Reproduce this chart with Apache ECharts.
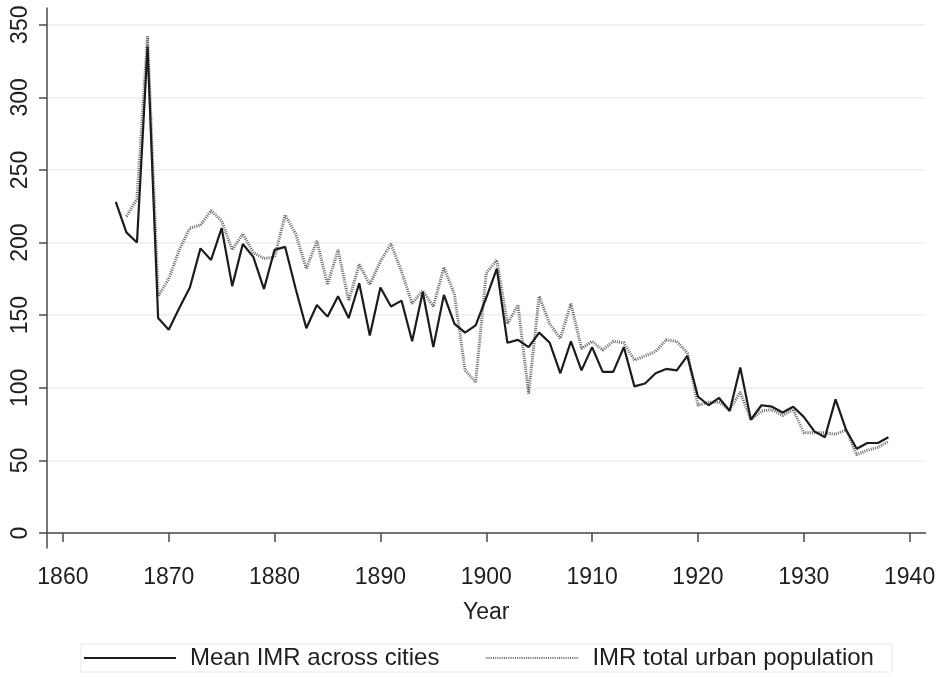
<!DOCTYPE html>
<html>
<head>
<meta charset="utf-8">
<script src="https://cdn.jsdelivr.net/npm/echarts@6/dist/echarts.min.js"></script>
<style>
  html, body { margin: 0; padding: 0; background: #fff; }
  #imr_chart { width: 944px; height: 677px; }
</style>
</head>
<body>
<div id="imr_chart"></div>
<script>
// IMR series
var meanYears = [1865,1866,1867,1868,1869,1870,1871,1872,1873,1874,1875,1876,1877,1878,1879,
    1880,1881,1882,1883,1884,1885,1886,1887,1888,1889,1890,1891,1892,1893,1894,1895,1896,1897,1898,1899,
    1900,1901,1902,1903,1904,1905,1906,1907,1908,1909,1910,1911,1912,1913,1914,1915,1916,1917,1918,1919,
    1920,1921,1922,1923,1924,1925,1926,1927,1928,1929,1930,1931,1932,1933,1934,1935,1936,1937,1938];
var meanImr = [228,207,200,335,148,140,155,169,196,188,210,170,199,190,168,
    195,197,168,141,157,149,163,148,172,136,169,156,160,132,166,128,164,144,138,143,
    162,182,131,133,128,138,131,110,132,112,128,111,111,128,101,103,110,113,112,122,
    94,88,93,84,114,78,88,87,83,87,80,70,66,92,71,58,62,62,66];

var urbanYears = [1866,1867,1868,1869,1870,1871,1872,1873,1874,1875,1876,1877,1878,1879,
    1880,1881,1882,1883,1884,1885,1886,1887,1888,1889,1890,1891,1892,1893,1894,1895,1896,1897,1898,1899,
    1900,1901,1902,1903,1904,1905,1906,1907,1908,1909,1910,1911,1912,1913,1914,1915,1916,1917,1918,1919,
    1920,1921,1922,1923,1924,1925,1926,1927,1928,1929,1930,1931,1932,1933,1934,1935,1936,1937,1938];
var urbanImr = [218,230,342,163,175,195,210,212,222,215,195,206,193,189,
    190,219,206,182,201,171,195,160,185,171,187,199,180,158,167,156,183,164,112,104,
    179,188,144,157,96,163,144,134,158,127,132,126,132,131,119,122,125,133,132,124,
    88,90,90,85,97,78,84,85,81,85,69,69,69,68,71,54,57,59,63];

var yearTicks = [1860,1870,1880,1890,1900,1910,1920,1930,1940];
var imrTicks = [0,50,100,150,200,250,300,350];

var pairs = function(xs, ys){
    var out = [];
    for (var i = 0; i < xs.length; i++) out.push([xs[i], ys[i]]);
    return out;
};

var chart = echarts.init(document.getElementById('imr_chart'));
var txt = '#1e1e1e';
var font = 'Liberation Sans, Arial, Helvetica, sans-serif';

var option = {
    animation: false,
    backgroundColor: '#ffffff',
    textStyle: { fontFamily: font },
    grid: { left: 47, right: 18.5, top: 8, bottom: 129 },
    legend: {
        data: ['Mean IMR across cities', 'IMR total urban population'],
        left: 81,
        top: 644,
        orient: 'horizontal',
        padding: [2, 18, 2, 2],
        borderColor: '#e3eaee',
        borderWidth: 1,
        itemWidth: 92,
        itemHeight: 14,
        itemGap: 46,
        itemStyle: { opacity: 0 },
        textStyle: { fontSize: 24, color: txt, fontFamily: font, padding: [0, 0, 0, 9] }
    },
    xAxis: {
        type: 'value',
        min: 1858.5,
        max: 1941.5,
        name: 'Year',
        nameLocation: 'middle',
        nameGap: 53,
        nameTextStyle: { fontSize: 23, color: txt, fontFamily: font },
        axisLine: { show: true, lineStyle: { color: '#4a4a4a', width: 1.5 } },
        axisTick: { show: true, length: 9, customValues: yearTicks, lineStyle: { color: '#4a4a4a', width: 1.5 } },
        axisLabel: {
            customValues: yearTicks, fontSize: 23, color: txt, margin: 18, fontFamily: font,
            formatter: function(v){ return String(v); }
        },
        splitLine: { show: false }
    },
    yAxis: {
        type: 'value',
        min: -10.3,
        max: 361.5,
        axisLine: { show: true, lineStyle: { color: '#4a4a4a', width: 1.5 } },
        axisTick: { show: true, length: 8, customValues: imrTicks, lineStyle: { color: '#4a4a4a', width: 1.5 } },
        axisLabel: { customValues: imrTicks, fontSize: 23, color: txt, margin: 15, rotate: 90, fontFamily: font },
        splitLine: { show: true, lineStyle: { color: '#e8eff2', width: 1.5 } }
    },
    series: [
        {
            name: 'Mean IMR across cities',
            type: 'line',
            z: 3,
            symbol: 'none',
            lineStyle: { color: '#1c1c1c', width: 2.2 },
            itemStyle: { color: '#1c1c1c' },
            data: pairs(meanYears, meanImr)
        },
        {
            name: 'IMR total urban population',
            type: 'line',
            z: 2,
            symbol: 'none',
            lineStyle: { color: '#666666', width: 3, type: [1, 1.2] },
            itemStyle: { color: '#666666' },
            data: pairs(urbanYears, urbanImr)
        }
    ]
};
chart.setOption(option);
</script>
</body>
</html>
